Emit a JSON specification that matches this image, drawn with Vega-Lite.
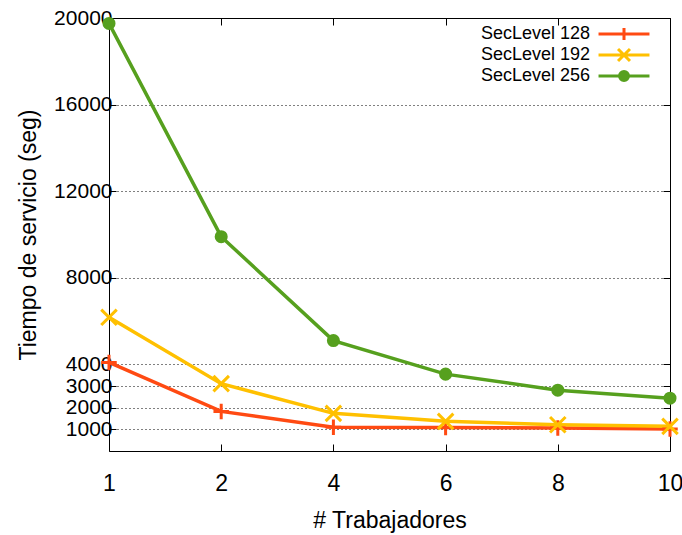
{
  "$schema": "https://vega.github.io/schema/vega-lite/v6.json",
  "width": 561,
  "height": 433,
  "autosize": {"type": "none"},
  "padding": {"left": 109, "top": 18, "right": 12, "bottom": 84},
  "config": {
    "font": "Liberation Sans",
    "view": {"stroke": "#000000", "strokeWidth": 1},
    "axis": {
      "domain": false,
      "labelFont": "Liberation Sans",
      "labelFontSize": 23,
      "labelColor": "#000000",
      "titleFont": "Liberation Sans",
      "titleFontSize": 23,
      "titleFontWeight": "normal",
      "titleColor": "#000000",
      "tickColor": "#000000",
      "tickSize": -7,
      "tickWidth": 1,
      "gridColor": "#000000",
      "gridDash": [1, 3],
      "gridWidth": 1
    },
    "legend": {
      "labelFont": "Liberation Sans",
      "labelFontSize": 18,
      "labelColor": "#000000",
      "symbolSize": 120,
      "symbolStrokeWidth": 3,
      "rowPadding": -16,
      "padding": 0,
      "labelAlign": "right",
      "labelOffset": -43
    }
  },
  "data": {
    "values": [
      {"trabajadores": 1, "serie": "SecLevel 128", "tiempo": 4090},
      {"trabajadores": 2, "serie": "SecLevel 128", "tiempo": 1830},
      {"trabajadores": 4, "serie": "SecLevel 128", "tiempo": 1100},
      {"trabajadores": 6, "serie": "SecLevel 128", "tiempo": 1090},
      {"trabajadores": 8, "serie": "SecLevel 128", "tiempo": 1060},
      {"trabajadores": 10, "serie": "SecLevel 128", "tiempo": 1015},
      {"trabajadores": 1, "serie": "SecLevel 192", "tiempo": 6175},
      {"trabajadores": 2, "serie": "SecLevel 192", "tiempo": 3110},
      {"trabajadores": 4, "serie": "SecLevel 192", "tiempo": 1740},
      {"trabajadores": 6, "serie": "SecLevel 192", "tiempo": 1370},
      {"trabajadores": 8, "serie": "SecLevel 192", "tiempo": 1215},
      {"trabajadores": 10, "serie": "SecLevel 192", "tiempo": 1140},
      {"trabajadores": 1, "serie": "SecLevel 256", "tiempo": 19750},
      {"trabajadores": 2, "serie": "SecLevel 256", "tiempo": 9900},
      {"trabajadores": 4, "serie": "SecLevel 256", "tiempo": 5100},
      {"trabajadores": 6, "serie": "SecLevel 256", "tiempo": 3550},
      {"trabajadores": 8, "serie": "SecLevel 256", "tiempo": 2810},
      {"trabajadores": 10, "serie": "SecLevel 256", "tiempo": 2440}
    ]
  },
  "layer": [
    {
      "mark": {"type": "line", "strokeWidth": 3.5},
      "encoding": {
        "order": {"field": "trabajadores", "type": "quantitative"},
        "color": {
          "field": "serie",
          "type": "nominal",
          "scale": {
            "domain": ["SecLevel 128", "SecLevel 192", "SecLevel 256"],
            "range": ["#ff4a12", "#ffc000", "#56a01e"]
          }
        },
        "x": {
          "field": "trabajadores",
          "type": "ordinal",
          "scale": {"type": "point", "padding": 0},
          "axis": {
            "title": "# Trabajadores",
            "labelAngle": 0,
            "labelFontSize": 23,
            "labelPadding": 28,
            "titlePadding": 14,
            "grid": false
          }
        },
        "y": {
          "field": "tiempo",
          "type": "quantitative",
          "scale": {"domain": [0, 20000], "nice": false, "zero": true},
          "axis": {
            "title": "Tiempo de servicio (seg)",
            "values": [1000, 2000, 3000, 4000, 8000, 12000, 16000, 20000],
            "format": "d",
            "labelFontSize": 21,
            "labelOverlap": false,
            "labelFlush": false,
            "labelPadding": 4,
            "titlePadding": 13,
            "grid": true
          }
        }
      }
    },
    {
      "transform": [{"filter": "datum.serie === 'SecLevel 128'"}],
      "mark": {
        "type": "point",
        "shape": "M-1,0H1M0,-1V1",
        "size": 240,
        "filled": false,
        "strokeWidth": 3,
        "opacity": 1
      },
      "encoding": {
        "color": {"field": "serie", "type": "nominal"},
        "x": {
          "field": "trabajadores",
          "type": "ordinal",
          "scale": {"type": "point", "padding": 0},
          "axis": {
            "orient": "top",
            "labels": false,
            "title": null,
            "grid": false
          }
        },
        "y": {
          "field": "tiempo",
          "type": "quantitative",
          "scale": {"domain": [0, 20000], "nice": false, "zero": true},
          "axis": {
            "orient": "right",
            "values": [1000, 2000, 3000, 4000, 8000, 12000, 16000, 20000],
            "labels": false,
            "title": null,
            "grid": false
          }
        }
      }
    },
    {
      "transform": [{"filter": "datum.serie === 'SecLevel 192'"}],
      "mark": {
        "type": "point",
        "shape": "M-1,-1L1,1M-1,1L1,-1",
        "size": 240,
        "filled": false,
        "strokeWidth": 3,
        "opacity": 1
      },
      "encoding": {
        "color": {"field": "serie", "type": "nominal"},
        "x": {"field": "trabajadores", "type": "ordinal", "scale": {"type": "point", "padding": 0}, "axis": null},
        "y": {"field": "tiempo", "type": "quantitative", "scale": {"domain": [0, 20000], "nice": false, "zero": true}, "axis": null}
      }
    },
    {
      "transform": [{"filter": "datum.serie === 'SecLevel 256'"}],
      "mark": {"type": "point", "shape": "circle", "size": 170, "filled": true, "opacity": 1},
      "encoding": {
        "color": {"field": "serie", "type": "nominal"},
        "x": {"field": "trabajadores", "type": "ordinal", "scale": {"type": "point", "padding": 0}, "axis": null},
        "y": {"field": "tiempo", "type": "quantitative", "scale": {"domain": [0, 20000], "nice": false, "zero": true}, "axis": null}
      }
    },
    {
      "transform": [{"filter": "datum.tiempo < 0"}],
      "mark": {"type": "point", "filled": false, "strokeWidth": 3, "opacity": 1},
      "encoding": {
        "x": {"field": "trabajadores", "type": "ordinal", "scale": {"type": "point", "padding": 0}, "axis": null},
        "y": {"field": "tiempo", "type": "quantitative", "scale": {"domain": [0, 20000], "nice": false, "zero": true}, "axis": null},
        "shape": {
          "field": "serie",
          "type": "nominal",
          "scale": {
            "domain": ["SecLevel 128", "SecLevel 192", "SecLevel 256"],
            "range": [
              "M-4.65,0H4.65M0,-1.09V1.09",
              "M-4.65,0H4.65M-1.09,-1.09L1.09,1.09M-1.09,1.09L1.09,-1.09",
              "M-4.65,0H4.65M-0.82,0A0.82,0.82,0,1,0,0.82,0A0.82,0.82,0,1,0,-0.82,0M-0.27,0A0.27,0.27,0,1,0,0.27,0A0.27,0.27,0,1,0,-0.27,0"
            ]
          },
          "legend": {
            "title": null,
            "orient": "none",
            "legendX": 506,
            "legendY": 7,
            "rowPadding": -16
          }
        },
        "color": {
          "field": "serie",
          "type": "nominal",
          "legend": {
            "title": null,
            "orient": "none",
            "legendX": 506,
            "legendY": 7,
            "rowPadding": -16
          }
        }
      }
    }
  ],
  "resolve": {"axis": {"x": "independent", "y": "independent"}}
}
